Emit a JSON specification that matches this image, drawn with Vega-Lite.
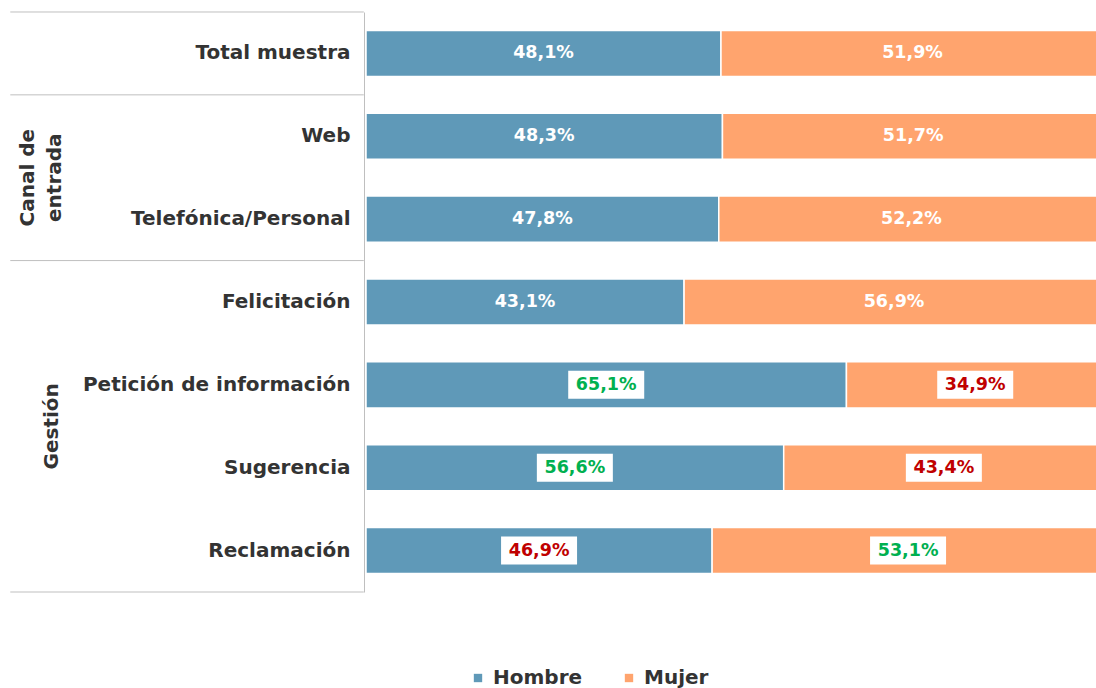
{
  "$schema": "https://vega.github.io/schema/vega-lite/v6.json",
  "width": 738,
  "height": 580,
  "autosize": "none",
  "padding": {"left": 366, "top": 12, "right": 0, "bottom": 96},
  "background": "white",
  "config": {
    "view": {"stroke": null},
    "font": "DejaVu Sans",
    "locale": {"number": {"decimal": ",", "thousands": ".", "grouping": [3], "currency": ["", " €"]}}
  },
  "datasets": {
    "bars": [
      {"cat": "Total muestra", "sexo": "Hombre", "pct": 0.481, "signif": "none"},
      {"cat": "Total muestra", "sexo": "Mujer", "pct": 0.519, "signif": "none"},
      {"cat": "Web", "sexo": "Hombre", "pct": 0.483, "signif": "none"},
      {"cat": "Web", "sexo": "Mujer", "pct": 0.517, "signif": "none"},
      {"cat": "Telefónica/Personal", "sexo": "Hombre", "pct": 0.478, "signif": "none"},
      {"cat": "Telefónica/Personal", "sexo": "Mujer", "pct": 0.522, "signif": "none"},
      {"cat": "Felicitación", "sexo": "Hombre", "pct": 0.431, "signif": "none"},
      {"cat": "Felicitación", "sexo": "Mujer", "pct": 0.569, "signif": "none"},
      {"cat": "Petición de información", "sexo": "Hombre", "pct": 0.651, "signif": "above"},
      {"cat": "Petición de información", "sexo": "Mujer", "pct": 0.349, "signif": "below"},
      {"cat": "Sugerencia", "sexo": "Hombre", "pct": 0.566, "signif": "above"},
      {"cat": "Sugerencia", "sexo": "Mujer", "pct": 0.434, "signif": "below"},
      {"cat": "Reclamación", "sexo": "Hombre", "pct": 0.469, "signif": "below"},
      {"cat": "Reclamación", "sexo": "Mujer", "pct": 0.531, "signif": "above"}
    ],
    "tops": [
      {"cat": "Total muestra"},
      {"cat": "Web"},
      {"cat": "Felicitación"}
    ],
    "bottoms": [
      {"cat": "Reclamación"}
    ],
    "group1": [
      {"cat": "Web", "group": "Canal de\nentrada"}
    ],
    "group2": [
      {"cat": "Petición de información", "group": "Gestión"}
    ]
  },
  "encoding": {
    "y": {
      "field": "cat",
      "type": "nominal",
      "scale": {
        "domain": ["Total muestra", "Web", "Telefónica/Personal", "Felicitación", "Petición de información", "Sugerencia", "Reclamación"],
        "paddingInner": 0.444,
        "paddingOuter": 0.222
      },
      "axis": {
        "title": null,
        "ticks": false,
        "offset": 2,
        "domainColor": "#bfbfbf",
        "domainWidth": 1,
        "labelFont": "DejaVu Sans",
        "labelFontWeight": "bold",
        "labelFontSize": 20,
        "labelColor": "#333333",
        "labelPadding": 14,
        "labelLimit": 400
      }
    }
  },
  "layer": [
    {
      "data": {"name": "bars"},
      "mark": {"type": "bar", "stroke": "white", "strokeWidth": 1.5},
      "encoding": {
        "x": {"field": "pct", "type": "quantitative", "stack": "zero", "scale": {"domain": [0, 1], "nice": false}, "axis": null},
        "color": {
          "field": "sexo",
          "type": "nominal",
          "scale": {"domain": ["Hombre", "Mujer"], "range": ["#5F99B8", "#FFA46E"]},
          "legend": {
            "title": null,
            "orient": "none",
            "legendX": 102,
            "legendY": 656,
            "direction": "horizontal",
            "symbolType": "square",
            "symbolSize": 70,
            "symbolStrokeWidth": 0,
            "labelFont": "DejaVu Sans",
            "labelFontSize": 20,
            "labelFontWeight": "bold",
            "labelColor": "#333333",
            "labelOffset": 5,
            "columnPadding": 36
          }
        },
        "order": {"field": "sexo", "sort": "ascending"}
      }
    },
    {
      "data": {"name": "bars"},
      "mark": {"type": "point", "shape": "M-1,-0.368H1V0.368H-1Z", "filled": true, "fill": "white", "size": 5776, "strokeWidth": 0},
      "encoding": {
        "x": {"field": "pct", "type": "quantitative", "stack": "zero", "bandPosition": 0.5},
        "detail": {"field": "sexo"},
        "order": {"field": "sexo", "sort": "ascending"},
        "opacity": {"condition": {"test": "datum.signif !== 'none'", "value": 1}, "value": 0}
      }
    },
    {
      "data": {"name": "bars"},
      "mark": {"type": "text", "font": "DejaVu Sans", "fontSize": 17.5, "fontWeight": "bold", "align": "center", "baseline": "middle"},
      "encoding": {
        "x": {"field": "pct", "type": "quantitative", "stack": "zero", "bandPosition": 0.5},
        "detail": {"field": "sexo"},
        "order": {"field": "sexo", "sort": "ascending"},
        "text": {"field": "pct", "type": "quantitative", "format": ".1%"},
        "fill": {
          "field": "signif",
          "type": "nominal",
          "scale": {"domain": ["none", "above", "below"], "range": ["#ffffff", "#00B050", "#C00000"]},
          "legend": null
        }
      }
    },
    {
      "data": {"name": "tops"},
      "mark": {"type": "rule", "color": "#bfbfbf", "strokeWidth": 1},
      "encoding": {
        "y": {"field": "cat", "type": "nominal", "bandPosition": -0.3993},
        "x": {"datum": -0.482},
        "x2": {"datum": -0.003}
      }
    },
    {
      "data": {"name": "bottoms"},
      "mark": {"type": "rule", "color": "#bfbfbf", "strokeWidth": 1},
      "encoding": {
        "y": {"field": "cat", "type": "nominal", "bandPosition": 1.3993},
        "x": {"datum": -0.482},
        "x2": {"datum": -0.003}
      }
    },
    {
      "data": {"name": "group1"},
      "mark": {"type": "text", "angle": 270, "font": "DejaVu Sans", "fontSize": 20, "fontWeight": "bold", "lineBreak": "\n", "lineHeight": 27, "align": "center", "baseline": "middle", "color": "#333333"},
      "encoding": {
        "y": {"field": "cat", "type": "nominal", "bandPosition": 1.3993},
        "x": {"datum": -0.458},
        "text": {"field": "group"}
      }
    },
    {
      "data": {"name": "group2"},
      "mark": {"type": "text", "angle": 270, "font": "DejaVu Sans", "fontSize": 20, "fontWeight": "bold", "align": "center", "baseline": "middle", "color": "#333333"},
      "encoding": {
        "y": {"field": "cat", "type": "nominal", "bandPosition": 1.3993},
        "x": {"datum": -0.4255},
        "text": {"field": "group"}
      }
    }
  ]
}
